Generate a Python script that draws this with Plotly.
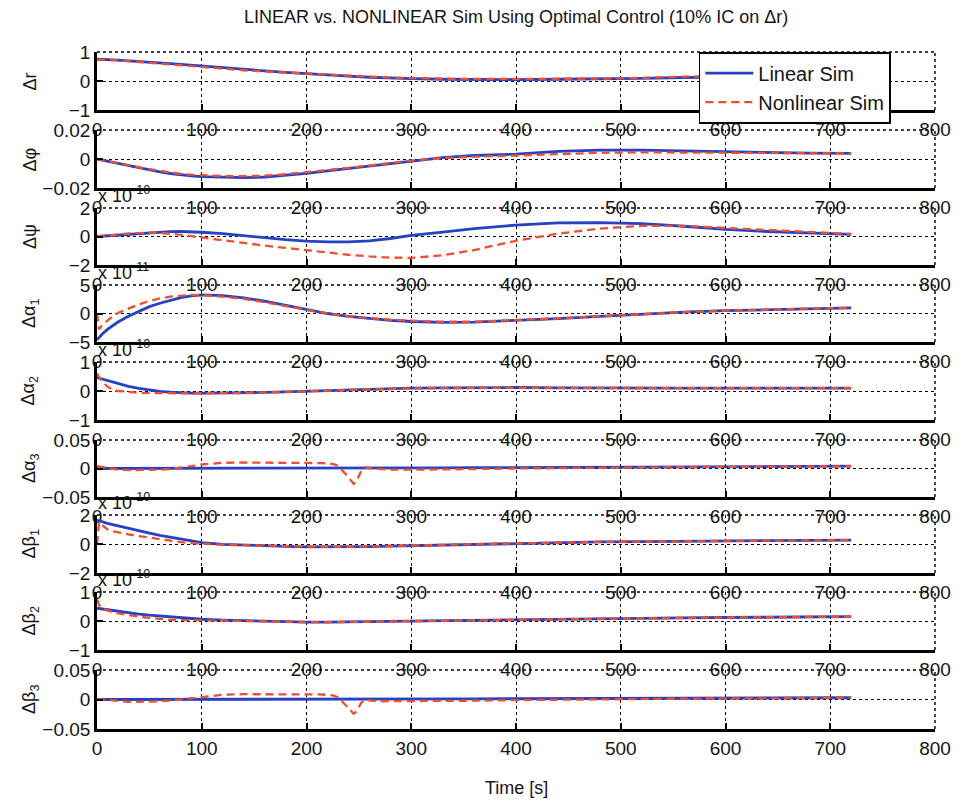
import plotly.graph_objects as go

# ---------------- data ----------------
T = [0, 2, 5, 10, 15, 20, 30, 40, 50, 60, 70, 80, 90, 100, 120, 140, 160, 180, 200,
     220, 240, 260, 280, 300, 330, 360, 400, 440, 480, 520, 560, 600, 640, 680, 720]

T_spike = [0, 10, 20, 30, 40, 50, 60, 70, 80, 90, 100, 110, 120, 140, 160, 180, 200,
           215, 225, 230, 235, 240, 245, 248, 252, 256, 262, 270, 280, 300, 330, 360,
           400, 450, 500, 550, 600, 650, 700, 720]

dr_lin = [0.75, 0.75, 0.75, 0.74, 0.73, 0.72, 0.70, 0.68, 0.66, 0.63, 0.60, 0.57, 0.54, 0.51,
          0.46, 0.40, 0.35, 0.30, 0.25, 0.21, 0.17, 0.13, 0.10, 0.08, 0.06, 0.05, 0.05, 0.06,
          0.07, 0.09, 0.12, 0.14, 0.15, 0.15, 0.15]
dr_nl = [0.74, 0.74, 0.74, 0.73, 0.72, 0.71, 0.69, 0.66, 0.63, 0.60, 0.57, 0.53, 0.50, 0.47,
         0.42, 0.37, 0.33, 0.29, 0.25, 0.21, 0.18, 0.15, 0.12, 0.10, 0.08, 0.07, 0.07, 0.07,
         0.08, 0.11, 0.15, 0.16, 0.16, 0.15, 0.15]

dphi_lin = [0, -0.0003, -0.0008, -0.0016, -0.0024, -0.0032, -0.0046, -0.0060, -0.0073, -0.0088,
            -0.0100, -0.0110, -0.0117, -0.0122, -0.0128, -0.0129, -0.0124, -0.0113, -0.0099,
            -0.0082, -0.0065, -0.0048, -0.0028, -0.0011, 0.0010, 0.0024, 0.0034, 0.0052,
            0.0061, 0.0061, 0.0055, 0.0048, 0.0043, 0.0040, 0.0039]
dphi_nl = [0, -0.0003, -0.0008, -0.0015, -0.0023, -0.0030, -0.0044, -0.0057, -0.0070, -0.0082,
           -0.0093, -0.0102, -0.0108, -0.0112, -0.0117, -0.0118, -0.0115, -0.0105, -0.0092,
           -0.0077, -0.0061, -0.0045, -0.0027, -0.0011, 0.0006, 0.0016, 0.0024, 0.0036,
           0.0043, 0.0046, 0.0045, 0.0041, 0.0040, 0.0039, 0.0039]

dpsi_lin = [0, 0.01, 0.03, 0.06, 0.09, 0.12, 0.18, 0.23, 0.28, 0.32, 0.34, 0.35, 0.33, 0.30,
            0.20, 0.06, -0.10, -0.22, -0.32, -0.38, -0.38, -0.30, -0.14, 0.08, 0.30, 0.55,
            0.80, 0.95, 0.98, 0.90, 0.72, 0.50, 0.35, 0.23, 0.15]
dpsi_nl = [0, 0.01, 0.03, 0.06, 0.10, 0.14, 0.21, 0.26, 0.28, 0.26, 0.20, 0.12, 0.02, -0.08,
           -0.28, -0.47, -0.64, -0.80, -0.97, -1.13, -1.28, -1.40, -1.48, -1.50, -1.32, -0.95,
           -0.30, 0.20, 0.55, 0.75, 0.75, 0.60, 0.45, 0.28, 0.18]

da1_lin = [-4.6, -4.2, -3.6, -2.8, -2.1, -1.5, -0.5, 0.4, 1.2, 1.8, 2.35, 2.8, 3.1, 3.25,
           3.15, 2.75, 2.15, 1.4, 0.65, 0.0, -0.5, -0.9, -1.2, -1.4, -1.55, -1.5, -1.25,
           -0.9, -0.5, -0.1, 0.25, 0.5, 0.7, 0.88, 1.0]
da1_nl = [0, -2.8, -2.0, -1.2, -0.5, 0.1, 0.9, 1.6, 2.2, 2.65, 2.95, 3.15, 3.25, 3.2,
          2.95, 2.55, 2.0, 1.3, 0.6, 0.0, -0.5, -0.85, -1.1, -1.25, -1.45, -1.45, -1.2,
          -0.85, -0.5, -0.1, 0.25, 0.5, 0.7, 0.88, 1.0]

da2_lin = [0.46, 0.44, 0.40, 0.35, 0.29, 0.24, 0.16, 0.09, 0.03, -0.01, -0.04, -0.06, -0.07,
           -0.07, -0.07, -0.06, -0.05, -0.03, -0.01, 0.02, 0.05, 0.07, 0.09, 0.10, 0.11, 0.12,
           0.12, 0.11, 0.10, 0.10, 0.10, 0.10, 0.10, 0.10, 0.10]
da2_nl = [0.60, 0.50, 0.32, 0.15, 0.05, 0.0, -0.04, -0.06, -0.07, -0.08, -0.08, -0.08, -0.08,
          -0.08, -0.08, -0.07, -0.05, -0.03, -0.01, 0.02, 0.05, 0.07, 0.08, 0.09, 0.10, 0.11,
          0.11, 0.11, 0.10, 0.10, 0.10, 0.10, 0.10, 0.10, 0.10]

da3_lin = [0, 0, 0, 0, 0, 0, 0, 0, 0, 0, 0, 0, 0, 0, 0, 0, 0, 0, 0, 0.0002, 0.0004, 0.0006,
           0.0008, 0.001, 0.0012, 0.0014, 0.0017, 0.002, 0.0023, 0.0026, 0.0029, 0.0032,
           0.0035, 0.0038, 0.004]
da3_nl = [0.004, 0.001, -0.002, -0.003, -0.003, -0.003, -0.002, -0.001, 0.001, 0.004, 0.007,
          0.009, 0.010, 0.0105, 0.0105, 0.010, 0.010, 0.0095, 0.008, 0.005, -0.005, -0.015,
          -0.027, -0.022, -0.005, 0.002, 0.0, -0.001, -0.002, -0.002, -0.001, -0.001, 0.0,
          0.001, 0.001, 0.002, 0.003, 0.003, 0.004, 0.004]

db1_lin = [1.65, 1.60, 1.52, 1.42, 1.33, 1.24, 1.06, 0.90, 0.75, 0.60, 0.46, 0.33, 0.20, 0.09,
           -0.02, -0.08, -0.12, -0.17, -0.20, -0.21, -0.20, -0.18, -0.15, -0.12, -0.07, -0.02,
           0.05, 0.10, 0.14, 0.17, 0.20, 0.22, 0.24, 0.26, 0.27]
db1_nl = [0, 1.50, 1.30, 1.00, 0.88, 0.80, 0.66, 0.55, 0.44, 0.33, 0.22, 0.13, 0.06, 0.02,
          -0.04, -0.08, -0.12, -0.16, -0.19, -0.20, -0.19, -0.17, -0.14, -0.11, -0.06, -0.01,
          0.05, 0.10, 0.14, 0.17, 0.20, 0.22, 0.24, 0.26, 0.27]

db2_lin = [0.44, 0.43, 0.41, 0.38, 0.35, 0.32, 0.28, 0.24, 0.20, 0.17, 0.14, 0.11, 0.08, 0.06,
           0.03, 0.01, -0.01, -0.03, -0.04, -0.04, -0.03, -0.02, -0.01, 0.0, 0.01, 0.02, 0.03,
           0.05, 0.07, 0.09, 0.11, 0.12, 0.13, 0.14, 0.15]
db2_nl = [0.75, 0.55, 0.42, 0.35, 0.30, 0.26, 0.20, 0.15, 0.11, 0.07, 0.04, 0.03, 0.03, 0.03,
          0.02, 0.0, -0.02, -0.03, -0.04, -0.04, -0.03, -0.02, -0.01, 0.0, 0.01, 0.02, 0.03,
          0.05, 0.07, 0.09, 0.11, 0.12, 0.13, 0.14, 0.15]

db3_lin = [0, 0, 0, 0, 0, 0, 0, 0, 0, 0, 0, 0, 0, 0, 0, 0, 0, 0, 0, 0.0002, 0.0003, 0.0005,
           0.0006, 0.0008, 0.001, 0.0011, 0.0013, 0.0015, 0.0017, 0.002, 0.0022, 0.0024,
           0.0026, 0.0028, 0.003]
db3_nl = [0.001, -0.001, -0.003, -0.004, -0.004, -0.004, -0.003, -0.002, 0.0, 0.003, 0.005,
          0.007, 0.008, 0.009, 0.009, 0.009, 0.009, 0.0085, 0.007, 0.004, -0.005, -0.014,
          -0.024, -0.020, -0.006, 0.0, -0.002, -0.003, -0.003, -0.003, -0.002, -0.002, -0.001,
          0.0, 0.0, 0.001, 0.002, 0.002, 0.003, 0.003]

y_labels = ["Δr", "Δφ", "Δψ", "Δα<sub>1</sub>", "Δα<sub>2</sub>", "Δα<sub>3</sub>",
            "Δβ<sub>1</sub>", "Δβ<sub>2</sub>", "Δβ<sub>3</sub>"]
y_limits = [1, 0.02, 2, 5, 1, 0.05, 2, 1, 0.05]
y_tick_text = [["−1", "0", "1"], ["−0.02", "0", "0.02"], ["−2", "0", "2"], ["−5", "0", "5"],
               ["−1", "0", "1"], ["−0.05", "0", "0.05"], ["−2", "0", "2"], ["−1", "0", "1"],
               ["−0.05", "0", "0.05"]]
exponents = [None, None, "-10", "-11", "-10", None, "-10", "-10", None]
x_ticks = [0, 100, 200, 300, 400, 500, 600, 700, 800]

series = [
    (T, dr_lin, T, dr_nl), (T, dphi_lin, T, dphi_nl), (T, dpsi_lin, T, dpsi_nl),
    (T, da1_lin, T, da1_nl), (T, da2_lin, T, da2_nl), (T, da3_lin, T_spike, da3_nl),
    (T, db1_lin, T, db1_nl), (T, db2_lin, T, db2_nl), (T, db3_lin, T_spike, db3_nl),
]

# ---------------- layout geometry ----------------
W, H = 963, 802
L, R, TOP, BOT = 97, 22, 52, 73
PH = H - TOP - BOT
rows_px = [(52, 110), (130, 188), (208, 265), (285, 342), (362, 420), (440, 497),
           (515, 573), (592, 650), (670, 729)]


def py(ypx):
    return (H - BOT - ypx) / PH


BLUE = "#2641c4"
RED = "#f24e2c"
FONT = "Liberation Sans, Arial, sans-serif"
TXT = "#151515"

fig = go.Figure()
layout = dict(
    width=W, height=H, margin=dict(l=L, r=R, t=TOP, b=BOT),
    paper_bgcolor="white", plot_bgcolor="white",
    font=dict(family=FONT, size=19, color=TXT),
    showlegend=True,
)

annotations = []
shapes = []
for i, (tl, yl, tn, yn) in enumerate(series):
    k = i + 1
    xa = "x" if k == 1 else f"x{k}"
    ya = "y" if k == 1 else f"y{k}"
    fig.add_trace(go.Scatter(x=tl, y=yl, mode="lines", name="Linear Sim",
                             line=dict(color=BLUE, width=2.8), xaxis=xa, yaxis=ya,
                             showlegend=(k == 1), legendgroup="lin"))
    fig.add_trace(go.Scatter(x=tn, y=yn, mode="lines", name="Nonlinear Sim",
                             line=dict(color=RED, width=2.3, dash="8px,5px"), xaxis=xa, yaxis=ya,
                             showlegend=(k == 1), legendgroup="nl"))
    top, bot = rows_px[i]
    lim = y_limits[i]
    xkey = "xaxis" if k == 1 else f"xaxis{k}"
    ykey = "yaxis" if k == 1 else f"yaxis{k}"
    common = dict(
        ticks="inside", ticklen=6, tickwidth=1.8, tickcolor="black",
        showline=True, linecolor="black", linewidth=2.6,
        showgrid=True, gridcolor="black", griddash="dot", gridwidth=1.4,
        zeroline=False, tickfont=dict(size=19, color=TXT),
    )
    layout[xkey] = dict(domain=[0, 1], anchor=ya, range=[0, 800], tickvals=x_ticks, **common)
    layout[ykey] = dict(domain=[py(bot), py(top)], anchor=xa, range=[-lim, lim],
                        tickvals=[-lim, 0, lim], ticktext=y_tick_text[i], **common)
    # dotted top and right frame (MATLAB grid at the limits)
    shapes.append(dict(type="line", xref=f"{xa} domain", yref=f"{ya} domain",
                       x0=0, x1=1, y0=1, y1=1, line=dict(color="black", width=1.4, dash="dot")))
    shapes.append(dict(type="line", xref=f"{xa} domain", yref=f"{ya} domain",
                       x0=1, x1=1, y0=0, y1=1, line=dict(color="black", width=1.4, dash="dot")))
    annotations.append(dict(
        text=y_labels[i], xref="paper", yref="paper", x=(30 - L) / (W - L - R),
        y=py((top + bot) / 2), textangle=-90, showarrow=False,
        font=dict(size=18, color=TXT), xanchor="center", yanchor="middle"))
    if exponents[i]:
        annotations.append(dict(
            text=f"x 10<sup>{exponents[i]}</sup>", xref="paper", yref="paper",
            x=0, y=py(top), xanchor="left", yanchor="bottom", yshift=0, xshift=-1,
            showarrow=False, font=dict(size=18, color=TXT)))

annotations.append(dict(
    text="LINEAR vs. NONLINEAR Sim Using Optimal Control (10% IC on Δr)",
    xref="paper", yref="paper", x=0.5, y=py(17), xanchor="center", yanchor="middle",
    showarrow=False, font=dict(size=18, color=TXT)))
annotations.append(dict(
    text="Time [s]", xref="paper", yref="paper", x=0.5, y=py(788),
    xanchor="center", yanchor="middle", showarrow=False,
    font=dict(size=18, color=TXT)))

layout["annotations"] = annotations
layout["shapes"] = shapes
layout["legend"] = dict(
    x=(703 - L) / (W - L - R), y=1, xanchor="left", yanchor="top",
    bgcolor="white", bordercolor="black", borderwidth=1.6,
    font=dict(size=20, color=TXT), itemwidth=48, tracegroupgap=0,
)
fig.update_layout(**layout)
fig.write_html("out.html")
